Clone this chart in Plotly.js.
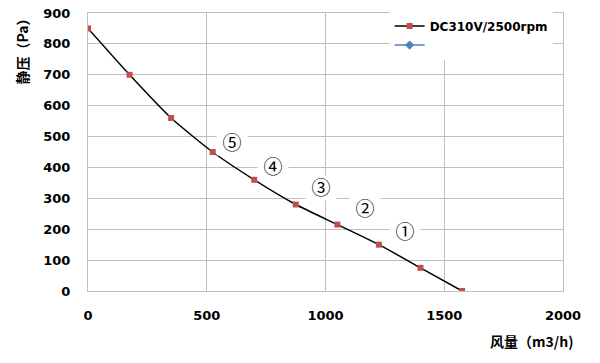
<!DOCTYPE html>
<html><head><meta charset="utf-8">
<script src="https://cdn.plot.ly/plotly-3.0.1.min.js"></script>
<style>body{margin:0;background:#fff}#c{width:600px;height:363px}</style>
</head><body><div id="c"></div>
<script>
const airflow = [0, 175, 350, 525, 700, 875, 1050, 1225, 1400, 1575];
const pressure = [850, 700, 560, 450, 360, 280, 215, 150, 75, 0];
const seriesName = "DC310V/2500rpm";
const pointLabels = ["⑤", "④", "③", "②", "①"];
const labelX = [608, 781, 979, 1168, 1336];
const labelY = [480, 400, 335, 267, 192];
const xTicks = [0, 500, 1000, 1500, 2000];
const yTicks = [0, 100, 200, 300, 400, 500, 600, 700, 800, 900];

const tickFont = {family: "DejaVu Sans, sans-serif", size: 13, color: "#000", weight: "bold"};
const traces = [
  {x: airflow, y: pressure, name: seriesName, type: "scatter", mode: "lines+markers",
   line: {color: "#000", width: 1.5, shape: "spline", smoothing: 0.6},
   marker: {symbol: "square", size: 6, color: "#c0504d"}},
  {x: [null], y: [null], name: " ", type: "scatter", mode: "lines+markers",
   line: {color: "#4f81bd", width: 1.5}, marker: {symbol: "diamond", size: 7, color: "#4f81bd"}}
];
const annotations = pointLabels.map((t, i) => ({
  x: labelX[i], y: labelY[i], xref: "x", yref: "y", text: t, showarrow: false,
  font: {family: "DejaVu Serif, Noto Sans CJK SC, serif", size: 19, color: "#000"},
  bgcolor: "#fff", width: 28, height: 22, borderpad: 1
}));
annotations.push(
  {xref: "paper", yref: "paper", x: -0.138, y: 0.874, xanchor: "center", yanchor: "middle",
   text: "<b>静压（Pa）</b>", textangle: -90, showarrow: false,
   font: {family: "Noto Sans CJK SC, sans-serif", size: 14, color: "#000"}},
  {xref: "paper", yref: "paper", x: 1.025, y: -0.135, xanchor: "right", yanchor: "top",
   text: "<b>风量（m3/h)</b>", showarrow: false,
   font: {family: "Noto Sans CJK SC, sans-serif", size: 14, color: "#000"}}
);
const layout = {
  width: 600, height: 363, paper_bgcolor: "#fff", plot_bgcolor: "#fff",
  margin: {l: 88, r: 37, t: 13, b: 71.5},
  showlegend: true,
  legend: {x: 0.635, y: 1.005, xanchor: "left", yanchor: "top", bgcolor: "#fff",
    font: {family: "DejaVu Sans, sans-serif", size: 12, color: "#000", weight: "bold"},
    tracegroupgap: 0, itemwidth: 30},
  xaxis: {range: [0, 2000], tickvals: xTicks, showgrid: true, gridcolor: "#bfbfbf", gridwidth: 1,
    showline: true, linecolor: "#bfbfbf", mirror: true, zeroline: false, tickfont: tickFont,
    ticks: "", ticklabelstandoff: 12},
  yaxis: {range: [0, 900], tickvals: yTicks, showgrid: true, gridcolor: "#bfbfbf", gridwidth: 1,
    showline: true, linecolor: "#bfbfbf", mirror: true, zeroline: false, tickfont: tickFont,
    ticks: "", ticklabelstandoff: 14},
  annotations: annotations
};
Plotly.newPlot("c", traces, layout, {displayModeBar: false, staticPlot: true});
</script></body></html>
